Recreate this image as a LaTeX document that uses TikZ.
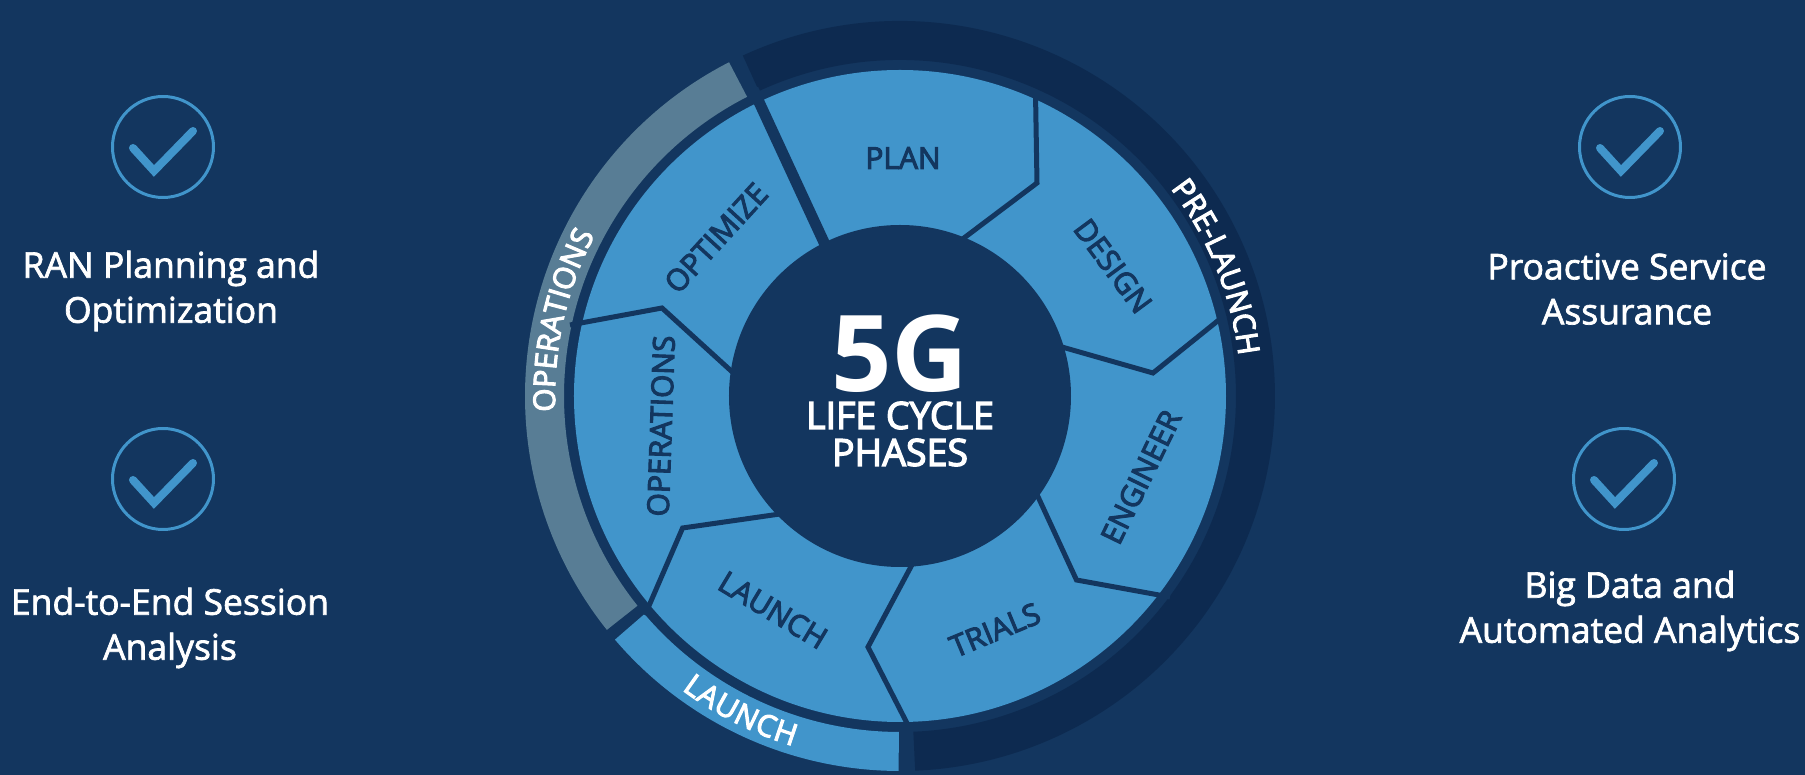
\documentclass[tikz,border=0pt]{standalone}
\usepackage{fontspec}
\setmainfont{Open Sans}
\newfontfamily\sidefont{Open Sans}[FakeBold=2]
\newfontfamily\phasefont{Open Sans}[FakeBold=3.5]
\usetikzlibrary{decorations.text}
\definecolor{navy}{HTML}{13365F}
\definecolor{deepnavy}{HTML}{0D2A50}
\definecolor{skyblue}{HTML}{4195CB}
\definecolor{slategrey}{HTML}{587D95}
\newcommand{\bandfont}{\phasefont\fontsize{30}{30}\selectfont\color{white}}

\begin{document}
\begin{tikzpicture}[x=1pt, y=1pt,
wheelnode/.style={circle, fill=skyblue, minimum size=652pt, inner sep=0pt},
hubnode/.style={circle, fill=navy, minimum size=342pt, inner sep=0pt, text=white, align=center},
ringband/.style={line width=39pt},
thinline/.style={draw=navy, line width=5pt, miter limit=10},
phasenode/.style={text=navy, font=\phasefont\fontsize{30}{30}\selectfont, inner sep=0pt},
checkring/.style={circle, draw=skyblue, line width=3pt, minimum size=101pt, inner sep=0pt},
checkmark/.style={draw=skyblue, line width=8pt, line cap=round},
sidenode/.style={text=white, align=center, inner sep=0pt, font=\sidefont\fontsize{35.5}{45}\selectfont},
]
\fill[navy, use as bounding box] (-900,-379) rectangle (905,396);

%Bands
\draw[ringband, deepnavy] (114.8:355.5pt) arc[start angle=114.8, end angle=-87.7, radius=355.5pt];
\draw[ringband, slategrey] (117.1:355.5pt) arc[start angle=117.1, end angle=218.6, radius=355.5pt];
\draw[ringband, skyblue] (220.5:355.5pt) arc[start angle=220.5, end angle=269.8, radius=355.5pt];

%Nodes
\node[wheelnode] (wheel) at (0,0) {};

%Lines
\draw[navy, line width=11pt] (-147,307) -- (-72,145);
\draw[thinline] (135.5,304) -- (137,213) -- (60,155);
\draw[thinline] (325,81) -- (253,23) -- (155,51);
\draw[thinline] (134,-92) -- (176.5,-184) -- (270,-201);
\draw[thinline] (14,-165) -- (-32,-251) -- (10,-333);
\draw[thinline] (-120,-118) -- (-217.4,-132) -- (-255,-219);
\draw[thinline] (-330,71) -- (-238,88) -- (-160,17);

%Nodes
\node[hubnode] (hub) at (0,0) {};
\node[text=white, font=\fontsize{106}{106}\selectfont\bfseries, inner sep=0pt] (fiveg) at (0,42) {5G};
\node[text=white, font=\phasefont\fontsize{37.5}{37}\selectfont, align=center, inner sep=0pt] (lifecycle) at (0,-38) {LIFE CYCLE\\PHASES};

\node[phasenode] (plan) at (3,238) {PLAN};
\node[phasenode, rotate=-53.5] (design) at (213,130) {DESIGN};
\node[phasenode, rotate=64] (engineer) at (241,-81) {ENGINEER};
\node[phasenode, rotate=22.6] (trials) at (95,-234) {TRIALS};
\node[phasenode, rotate=-31] (launch) at (-127,-214) {LAUNCH};
\node[phasenode, rotate=88] (operations) at (-239,-30) {OPERATIONS};
\node[phasenode, rotate=47.5] (optimize) at (-184,158) {OPTIMIZE};

%Band labels
\path[decorate, decoration={text along path, text align={fit to path}, text={|\bandfont|PRE-LAUNCH}}]
  (37.5:341pt) arc[start angle=37.5, end angle=7.2, radius=341pt];
\path[decorate, decoration={text along path, text align={fit to path}, text={|\bandfont|OPERATIONS}}]
  (182.6:345pt) arc[start angle=182.6, end angle=152.7, radius=345pt];
\path[decorate, decoration={text along path, text align={fit to path}, text={|\bandfont|LAUNCH}}]
  (233.4:366pt) arc[start angle=233.4, end angle=253, radius=366pt];

%Checks
\node[checkring] (ranring) at (-737,249) {};
\node[checkring] (e2ering) at (-737,-83) {};
\node[checkring] (servicering) at (730,249) {};
\node[checkring] (dataring) at (724,-83) {};
\draw[checkmark] ([shift={(-30,-1)}]ranring.center) -- ([shift={(-9,-24)}]ranring.center) -- ([shift={(30,16)}]ranring.center);
\draw[checkmark] ([shift={(-30,-1)}]e2ering.center) -- ([shift={(-9,-24)}]e2ering.center) -- ([shift={(30,16)}]e2ering.center);
\draw[checkmark] ([shift={(-30,-1)}]servicering.center) -- ([shift={(-9,-24)}]servicering.center) -- ([shift={(30,16)}]servicering.center);
\draw[checkmark] ([shift={(-30,-1)}]dataring.center) -- ([shift={(-9,-24)}]dataring.center) -- ([shift={(30,16)}]dataring.center);

\node[sidenode] (ran) at (-729,105) {RAN Planning and\\Optimization};
\node[sidenode] (e2e) at (-730,-232) {End-to-End Session\\Analysis};
\node[sidenode] (service) at (727,107) {Proactive Service\\Assurance};
\node[sidenode] (data) at (730,-215) {Big Data and\\Automated Analytics};
\end{tikzpicture}
\end{document}
